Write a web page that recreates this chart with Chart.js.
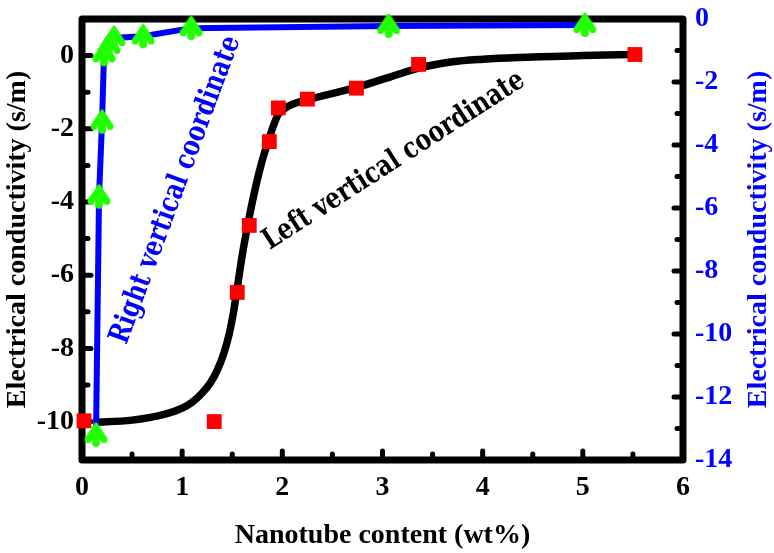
<!DOCTYPE html>
<html>
<head>
<meta charset="utf-8">
<script src="https://cdn.jsdelivr.net/npm/chart.js@4.4.1/dist/chart.umd.min.js"></script>
<style>
  html, body { margin: 0; padding: 0; background: #fff; }
</style>
</head>
<body>
<canvas id="chart" width="774" height="553"></canvas>
<script>
// axis ticks
const xTicks = [0, 1, 2, 3, 4, 5, 6];
const leftTicks = [-10, -8, -6, -4, -2, 0];
const rightTicks = [0, -2, -4, -6, -8, -10, -12, -14];

// black fitted curve (left axis)
const curveX = [0.12, 0.5, 0.82, 1.0, 1.1, 1.2, 1.28, 1.35, 1.42, 1.47, 1.51, 1.55, 1.6, 1.66, 1.72, 1.79, 1.87, 1.92, 1.96, 2.02, 2.1, 2.26, 2.75, 3.08, 3.38, 3.7, 4.0, 4.35, 5.0, 5.52];
const curveY = [-10.02, -9.96, -9.8, -9.63, -9.47, -9.22, -8.95, -8.6, -8.1, -7.6, -7.05, -6.35, -5.45, -4.55, -3.75, -2.96, -2.24, -1.85, -1.6, -1.45, -1.33, -1.2, -0.86, -0.58, -0.33, -0.17, -0.1, -0.05, 0.0, 0.03];

// red squares (left axis)
const squareX = [0.02, 1.32, 1.55, 1.67, 1.87, 1.96, 2.25, 2.74, 3.36, 5.52];
const squareY = [-9.98, -10.0, -6.47, -4.64, -2.35, -1.43, -1.19, -0.89, -0.24, 0.03];

// blue line with green markers (right axis)
const blueX = [0.14, 0.17, 0.2, 0.22, 0.27, 0.32, 0.61, 1.09, 3.06, 5.02];
const blueY = [-13.2, -5.64, -3.26, -1.12, -0.85, -0.6, -0.55, -0.29, -0.22, -0.19];

const BLUE = '#0000ff';
const GREEN = '#22ff00';
const RED = '#ff0000';
const tickFont = { family: '"Liberation Serif", "Times New Roman", serif', size: 28, weight: 'bold' };

function pts(xs, ys) {
    return xs.map((x, i) => ({x: x, y: ys[i]}));
}

// little green "tree" marker
function makeTree() {
    const c = document.createElement('canvas');
    c.width = 26; c.height = 26;
    const g = c.getContext('2d');
    g.fillStyle = GREEN;
    g.strokeStyle = GREEN;
    g.lineJoin = 'round';
    g.lineWidth = 3;
    g.beginPath();
    g.moveTo(13, 2);
    g.lineTo(3, 17);
    g.lineTo(23, 17);
    g.closePath();
    g.fill();
    g.stroke();
    [[5, 18, 3.3], [21, 18, 3.3], [13, 21, 4]].forEach(([x, y, r]) => {
        g.beginPath();
        g.arc(x, y, r, 0, Math.PI * 2);
        g.fill();
    });
    return c;
}

function fitBox(size, horizontal) {
    return function (s) {
        if (horizontal) s.height = size; else s.width = size;
        s.paddingTop = 0; s.paddingBottom = 0; s.paddingLeft = 0; s.paddingRight = 0;
    };
}

function note(ctx, text, color, x, y, deg) {
    ctx.save();
    ctx.font = 'bold 29px "DejaVu Serif", serif';
    ctx.textAlign = 'center';
    ctx.textBaseline = 'middle';
    ctx.fillStyle = color;
    ctx.translate(x, y);
    ctx.rotate(deg * Math.PI / 180);
    ctx.scale(0.8, 1);
    ctx.fillText(text, 0, 0);
    ctx.restore();
}

// frame, inward ticks, right title and the two rotated notes
const decor = {
    id: 'decor',
    beforeDatasetsDraw(chart) {
        const {ctx, chartArea: a, scales} = chart;
        ctx.save();
        ctx.strokeStyle = '#000';
        ctx.lineJoin = 'round';
        ctx.lineCap = 'round';
        ctx.lineWidth = 7;
        ctx.strokeRect(a.left, a.top, a.right - a.left, a.bottom - a.top);

        ctx.lineWidth = 5;
        const tick = (x1, y1, x2, y2) => {
            ctx.beginPath(); ctx.moveTo(x1, y1); ctx.lineTo(x2, y2); ctx.stroke();
        };
        for (let v = 0.5; v < 6; v += 0.5) {
            const px = scales.x.getPixelForValue(v);
            tick(px, a.bottom, px, a.bottom - (v % 1 === 0 ? 9 : 6));
        }
        for (let v = -10; v <= 0; v += 1) {
            const py = scales.y.getPixelForValue(v);
            tick(a.left, py, a.left + (v % 2 === 0 ? 9 : 6), py);
        }
        for (let v = -13; v < 0; v += 1) {
            const py = scales.y2.getPixelForValue(v);
            tick(a.right, py, a.right - (v % 2 === 0 ? 9 : 6), py);
        }
        ctx.restore();
    },
    afterDraw(chart) {
        const {ctx, chartArea: a} = chart;
        ctx.save();
        ctx.fillStyle = BLUE;
        ctx.font = 'bold 28px "Liberation Serif", serif';
        ctx.textAlign = 'center';
        ctx.textBaseline = 'middle';
        ctx.translate(759, (a.top + a.bottom) / 2);
        ctx.rotate(-Math.PI / 2);
        ctx.fillText('Electrical conductivity (s/m)', 0, 0);
        ctx.restore();

        note(ctx, 'Right vertical coordinate', BLUE, 176, 190, -69.6);
        note(ctx, 'Left vertical coordinate', '#000', 394, 161, -32.8);
    }
};

const chart = new Chart(document.getElementById('chart'), {
    type: 'scatter',
    data: {
        datasets: [
            {
                label: 'Right axis',
                data: pts(blueX, blueY),
                yAxisID: 'y2',
                showLine: true,
                borderColor: BLUE,
                borderWidth: 6,
                pointStyle: makeTree(),
                pointRadius: 13,
                clip: false,
                order: 0
            },
            {
                label: 'Measured',
                data: pts(squareX, squareY),
                yAxisID: 'y',
                showLine: false,
                pointStyle: 'rect',
                pointRadius: 10.5,
                pointBackgroundColor: RED,
                pointBorderWidth: 0,
                clip: false,
                order: 1
            },
            {
                label: 'Fit',
                data: pts(curveX, curveY),
                yAxisID: 'y',
                showLine: true,
                borderColor: '#000',
                borderWidth: 7.5,
                cubicInterpolationMode: 'monotone',
                pointRadius: 0,
                clip: false,
                order: 2
            }
        ]
    },
    options: {
        responsive: false,
        animation: false,
        layout: { padding: { top: 13, left: 0, right: 0, bottom: 0 } },
        plugins: { legend: { display: false }, tooltip: { enabled: false } },
        scales: {
            x: {
                type: 'linear',
                position: 'bottom',
                min: 0,
                max: 6,
                afterBuildTicks: s => { s.ticks = xTicks.map(v => ({value: v})); },
                afterFit: fitBox(93, true),
                grid: { display: false, drawTicks: false },
                border: { display: false },
                ticks: { font: tickFont, color: '#000', padding: 11, maxRotation: 0 },
                title: {
                    display: true,
                    text: 'Nanotube content (wt%)',
                    color: '#000',
                    font: tickFont,
                    padding: { top: 0, bottom: 0 }
                }
            },
            y: {
                type: 'linear',
                position: 'left',
                min: -11.05,
                max: 1.0,
                afterBuildTicks: s => { s.ticks = leftTicks.map(v => ({value: v})); },
                afterFit: fitBox(82, false),
                grid: { display: false, drawTicks: false },
                border: { display: false },
                ticks: { font: tickFont, color: '#000', padding: 8 },
                title: {
                    display: true,
                    text: 'Electrical conductivity (s/m)',
                    color: '#000',
                    font: tickFont,
                    padding: { top: 1, bottom: 0 }
                }
            },
            y2: {
                type: 'linear',
                position: 'right',
                min: -14,
                max: 0,
                afterBuildTicks: s => { s.ticks = rightTicks.map(v => ({value: v})); },
                afterFit: fitBox(91, false),
                grid: { display: false, drawTicks: false },
                border: { display: false },
                ticks: { font: tickFont, color: BLUE, padding: 12 }
            }
        }
    },
    plugins: [decor]
});
</script>
</body>
</html>
